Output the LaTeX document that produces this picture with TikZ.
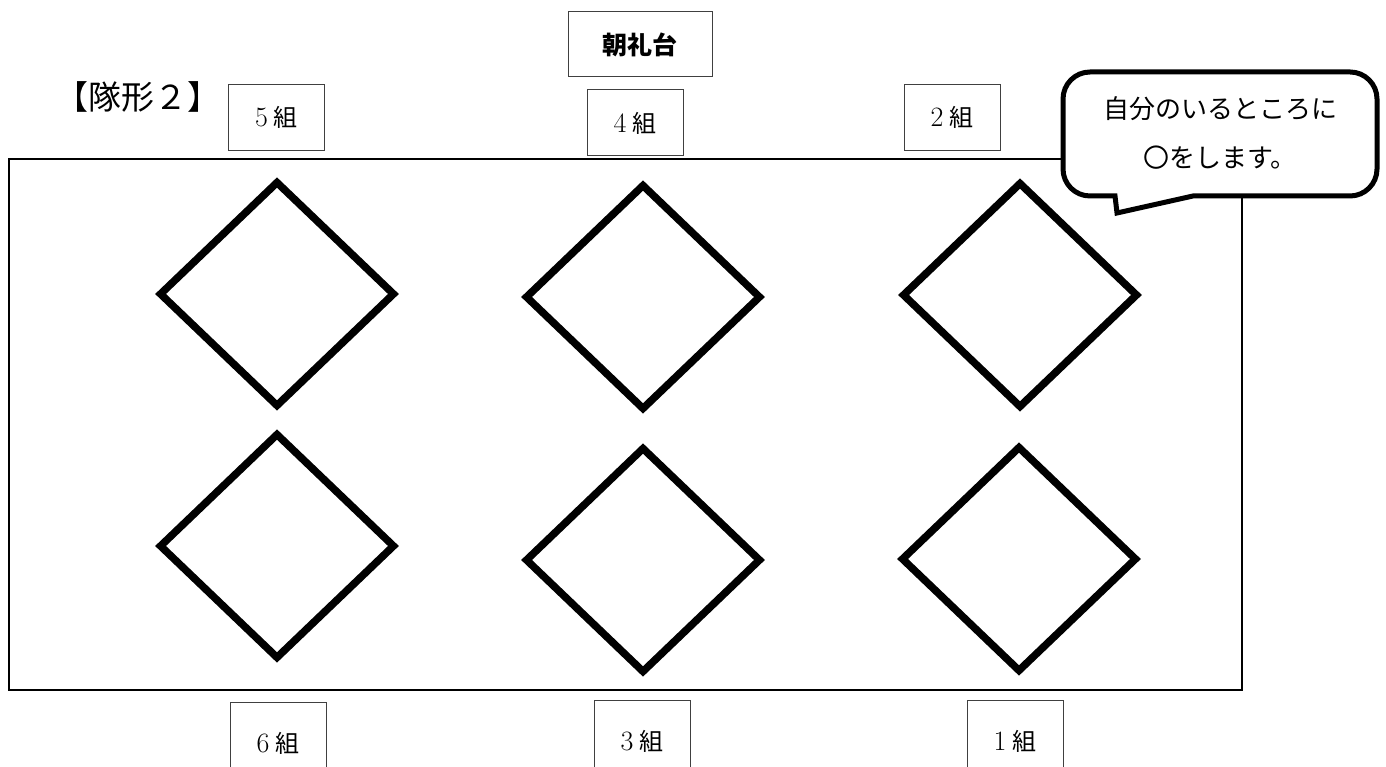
\documentclass[tikz,border=0pt]{standalone}
\usepackage{fontspec}
\newfontfamily\jpfont{Noto Sans CJK JP}
\usetikzlibrary{positioning, shapes.geometric}

\newcommand\kumi[1]{{\fontsize{28pt}{30pt}\selectfont #1}\hspace{6pt}{\jpfont 組}}

\begin{document}
\begin{tikzpicture}[x=1pt, y=1pt,
    field/.style={draw, line width=2.5pt, minimum width=1233pt, minimum height=531pt, inner sep=0pt},
    spot/.style={draw, diamond, line width=7.5pt, minimum width=236pt, minimum height=226pt, inner sep=0pt},
    grp/.style={draw=black!75, line width=1pt, minimum width=96pt, minimum height=66pt, inner sep=0pt, font=\fontsize{24pt}{28pt}\selectfont},
    stage/.style={draw=black!75, line width=1pt, minimum width=144pt, minimum height=65pt, inner sep=0pt, font={\jpfont\bfseries\fontsize{25pt}{30pt}\selectfont}},
    bubble/.style={draw, line width=5pt, fill=white}
]
    \useasboundingbox (0,0) rectangle (1386,767);

    \node[font={\jpfont\fontsize{33pt}{38pt}\selectfont}] (title) at (138,670) {【隊形２】};
    \node[field] (field) at (625.5,342.5) {};

    % diamonds
    \node[spot] (d5) at (277,473) {};
    \node[spot] (d4) at (643,470) {};
    \node[spot] (d2) at (1020,472) {};
    \node[spot] (d6) at (277,221) {};
    \node[spot] (d3) at (643,207) {};
    \node[spot] (d1) at (1019,208) {};

    % class labels
    \node[stage] (stand) at (640,722.5) {朝礼台};
    \node[grp, below=12pt of stand, xshift=-5pt] (g4) {\kumi{4}};
    \node[grp] (g5) at (276.5,649.5) {\kumi{5}};
    \node[grp] (g2) at (952,649.5) {\kumi{2}};
    \node[grp, minimum height=80pt] (g6) at (278,24) {\kumi{6}};
    \node[grp, minimum height=80pt] (g3) at (642,26) {\kumi{3}};
    \node[grp, minimum height=80pt] (g1) at (1015,26) {\kumi{1}};

    % speech bubble
    \draw[bubble] (1115,571) -- (1090,571) arc[start angle=270, end angle=180, radius=27]
        -- (1063,668) arc[start angle=180, end angle=90, radius=27]
        -- (1350,695) arc[start angle=90, end angle=0, radius=27]
        -- (1377,598) arc[start angle=0, end angle=-90, radius=27]
        -- (1193,571) -- (1117,554) -- cycle;
    \node[align=center, font={\jpfont\fontsize{26pt}{49pt}\selectfont}] (note) at (1220,634) {自分のいるところに\\〇をします。};
\end{tikzpicture}
\end{document}
